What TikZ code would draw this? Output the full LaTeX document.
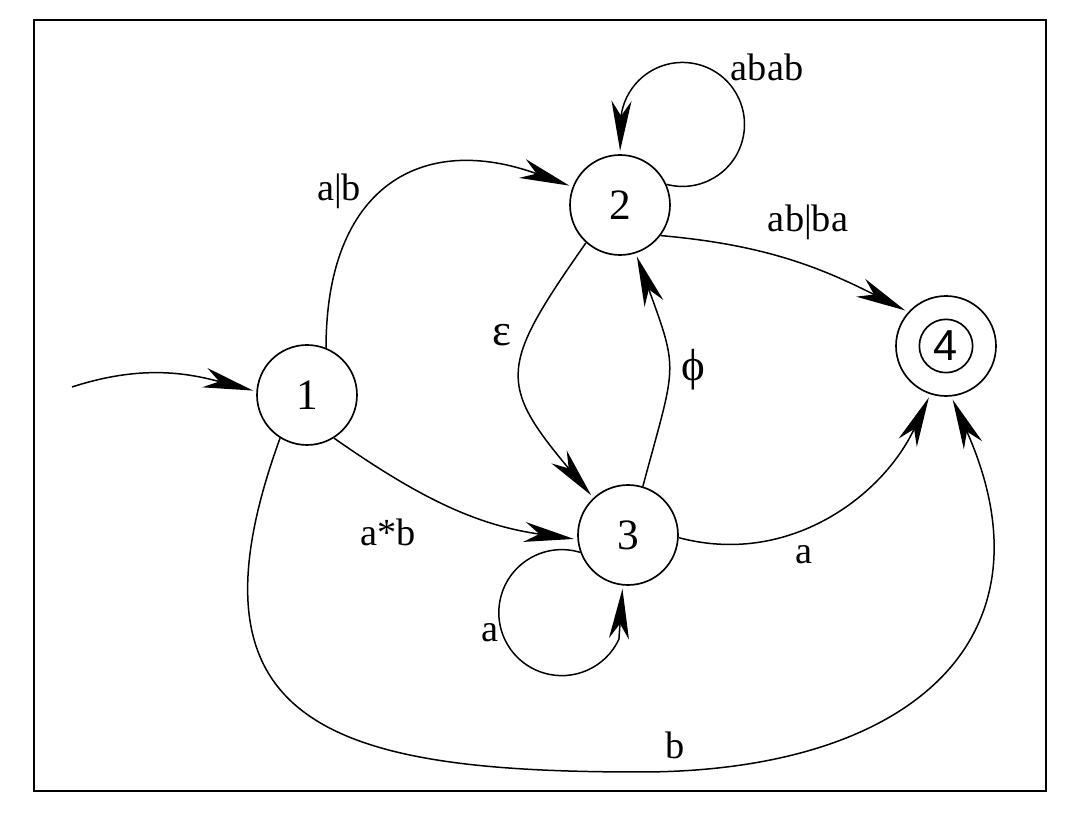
\documentclass[tikz,border=0pt]{standalone}
\usepackage{fontspec}
\setmainfont{Liberation Serif}
\setsansfont{Liberation Sans}
\newfontfamily\labfont{Liberation Serif}
\usetikzlibrary{arrows.meta}

\begin{document}
\begin{tikzpicture}[x=0.3pt, y=-0.3pt,
  state/.style={circle, draw, line width=0.5pt, minimum size=30pt, inner sep=0pt, font=\labfont\fontsize{13}{15}\selectfont},
  lbl/.style={inner sep=1pt, font=\labfont\fontsize{11.5}{14}\selectfont},
  greek/.style={inner sep=1pt, font=\labfont\fontsize{13.5}{16}\selectfont},
  trans/.style={-{Stealth[length=15pt, width=6pt, inset=4.5pt]}, line width=0.45pt, shorten >=1pt}]
\useasboundingbox (0,0) rectangle (1074,820);
\draw[line width=0.6pt] (34,20) rectangle (1046,791);

\node[state] (s1) at (307,395) {1};
\node[state] (s2) at (620,205) {2};
\node[state] (s3) at (628,535) {3};
\node[state] (s4) at (946,346) {};
\node[circle, draw, line width=0.5pt, minimum size=16pt, inner sep=0pt, font=\fontsize{13}{15}\sffamily] (s4in) at (s4) {4};
\coordinate (start) at (72,387);
\coordinate (bot) at (640,772);

\draw[trans] (start) to[out=18,in=165] (s1.176);
\draw[trans] (s1.68) to[out=90,in=160,looseness=1.4] (s2.159);
\draw[trans] (s2.24) arc[start angle=-105, end angle=172, radius=18.6pt] -- (s2.90);
\draw[trans] (s2.-37) to[out=-5,in=153] (s4.138);
\draw[trans] (s2.228) to[out=235,in=130,looseness=1.5] (s3.133);
\draw[trans] (s3.73) to[out=75,in=-70,looseness=1.4] (s2.-72);
\draw[trans] (s1.-58) to[out=-35,in=172] (s3.185);
\draw[trans] (s3.-3) to[out=-15,in=-115] (s4.-108);
\draw[trans] (s3.200) arc[start angle=73, end angle=335, radius=18.9pt] -- (s3.-96);
\draw[trans] (s1.-122) to[out=-110,in=180,looseness=1.6] (bot) to[out=0,in=-66,looseness=1.4] (s4.-84);

\node[lbl] (lab) at (767,67) {abab};
\node[lbl] (lalb) at (339,191) {a|b};
\node[lbl] (labba) at (808,222) {ab|ba};
\node[greek] (leps) at (502,335) {ε};
\node[greek] (lphi) at (693,370) {ϕ};
\node[lbl] (lastb) at (388,532) {a*b};
\node[lbl] (la34) at (804,555) {a};
\node[lbl] (la33) at (490,633) {a};
\node[lbl] (lb) at (675,745) {b};
\end{tikzpicture}
\end{document}
